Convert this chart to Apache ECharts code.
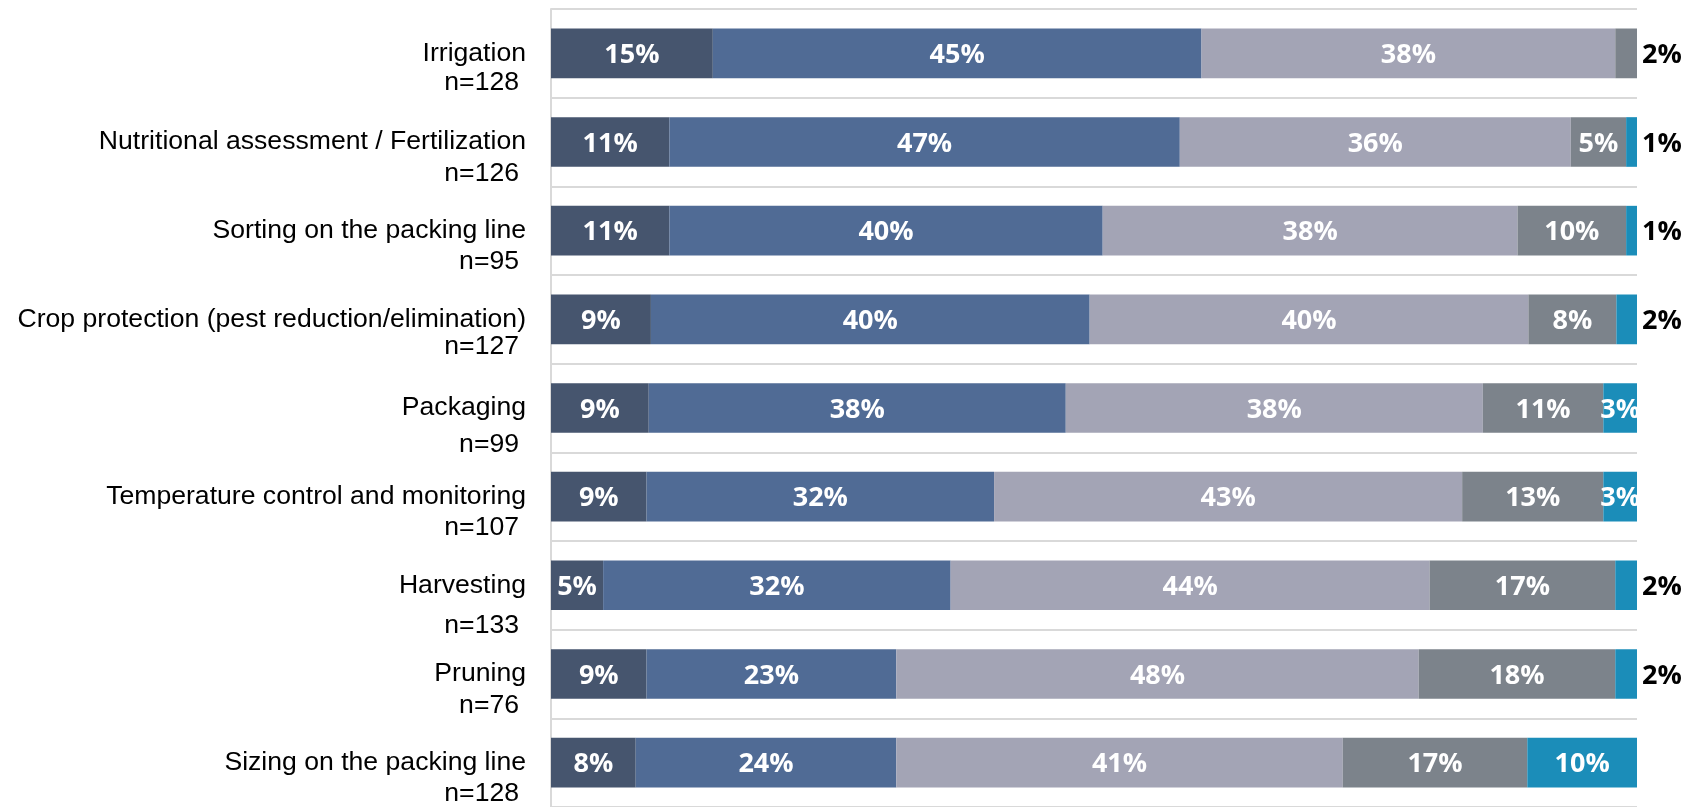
<!DOCTYPE html>
<html><head><meta charset="utf-8">
<script src="https://cdn.jsdelivr.net/npm/echarts@6/dist/echarts.min.js"></script>
<style>html,body{margin:0;padding:0;background:#fff}#c{width:1693px;height:807px}</style>
</head><body><div id="c"></div>
<script>
// ---- data ----
const categories = ['Irrigation', 'Nutritional assessment / Fertilization', 'Sorting on the packing line',
  'Crop protection (pest reduction/elimination)', 'Packaging', 'Temperature control and monitoring',
  'Harvesting', 'Pruning', 'Sizing on the packing line'];
const sampleSizes = [128, 126, 95, 127, 99, 107, 133, 76, 128];
const seg1 = [14.9, 10.9, 10.9, 9.2, 9.0, 8.8, 4.8, 8.8, 7.8];
const seg2 = [45.0, 47.0, 39.9, 40.4, 38.4, 32.0, 32.0, 23.0, 24.0];
const seg3 = [38.1, 36.0, 38.2, 40.4, 38.4, 43.1, 44.1, 48.1, 41.1];
const seg4 = [2.0, 5.1, 10.0, 8.1, 11.1, 13.0, 17.1, 18.1, 17.0];
const seg5 = [0, 1.0, 1.0, 1.9, 3.1, 3.1, 2.0, 2.0, 10.1];

// ---- styles ----
const colors = ['#46556e', '#506b95', '#a3a4b5', '#7c838b', '#1b8db9'];
const lineGaps = [29, 32, 31, 27, 37, 31, 40, 32, 31];
const FONT = 'Liberation Sans, Arial';

const rich = {};
lineGaps.forEach(g => {
  rich['s' + g] = { lineHeight: g, fontSize: 26.6, fontFamily: FONT, color: '#000' };
  rich['a' + g] = { lineHeight: g, fontSize: 26.6, fontFamily: FONT, color: '#000' };
  rich['b' + g] = { lineHeight: g, fontSize: 26.6, fontFamily: FONT, color: '#000', padding: [0, 7, 0, 0] };
});

const segs = [seg1, seg2, seg3, seg4, seg5];
const series = segs.map((arr, si) => ({
  name: 'Segment ' + (si + 1),
  type: 'bar',
  stack: 'total',
  barWidth: '56%',
  itemStyle: { color: colors[si] },
  label: {
    show: true,
    position: 'inside',
    offset: [0, 2],
    color: '#fff',
    fontFamily: 'Open Sans',
    fontWeight: 'bold',
    fontSize: 27,
    formatter: p => p.value > 0 ? Math.round(p.value) + '%' : ''
  },
  data: arr.map(v => v > 0 && v < 2.5
    ? { value: v, label: { position: 'right', color: '#000', distance: 5 } }
    : { value: v })
}));

const chart = echarts.init(document.getElementById('c'));
chart.setOption({
  animation: false,
  backgroundColor: '#fff',
  grid: { left: 551, right: 56, top: 9, height: 800, containLabel: false },
  xAxis: {
    type: 'value', min: 0, max: 100,
    show: false
  },
  yAxis: {
    type: 'category',
    inverse: true,
    data: categories,
    axisTick: { show: false },
    axisLine: { show: true, lineStyle: { color: '#d9d9d9', width: 2 } },
    splitLine: { show: true, interval: 0, lineStyle: { color: '#d9d9d9', width: 2 } },
    axisLabel: {
      interval: 0,
      hideOverlap: false,
      showMinLabel: true,
      showMaxLabel: true,
      margin: 25,
      align: 'right',
      formatter: (v, i) => {
        const g = lineGaps[i];
        return '{s' + g + '| }\n{a' + g + '|' + v + '}\n{b' + g + '|n=' + sampleSizes[i] + '}';
      },
      rich: rich
    }
  },
  series: series
});
</script></body></html>
